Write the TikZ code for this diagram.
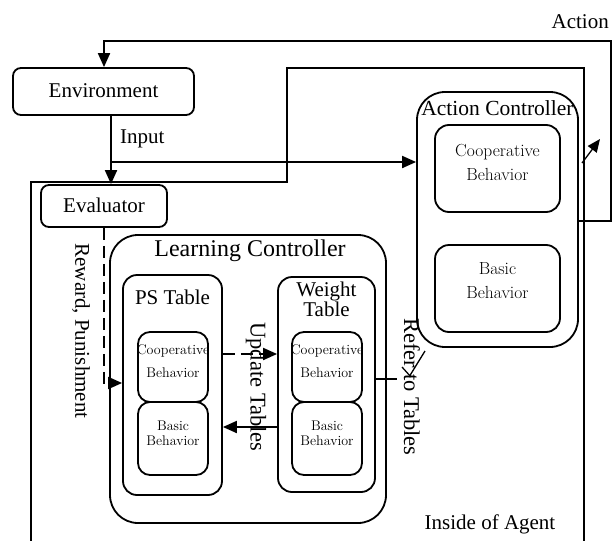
\documentclass[tikz,border=0pt]{standalone}
\usepackage{fontspec}
\setmainfont{Liberation Serif}
\usetikzlibrary{arrows.meta}
\begin{document}
\begin{tikzpicture}[x=1pt,y=-1pt,
  box/.style={draw, line width=1.8pt, rounded corners=#1, inner sep=0pt},
  box/.default=8pt,
  conn/.style={line width=1.9pt},
  arr/.style={conn, -{Triangle[length=14pt,width=12pt]}},
  dashline/.style={dash pattern=on 12pt off 6pt},
  big/.style={font=\fontsize{21}{23}\selectfont, inner sep=0pt},
  bigger/.style={font=\fontsize{24}{26}\selectfont, inner sep=0pt},
  rot/.style={font=\fontsize{22.5}{24}\selectfont, inner sep=0pt, rotate=-90},
  small/.style={font=\fontfamily{lmr}\fontsize{14}{23}\selectfont, align=center, inner sep=0pt},
  smallb/.style={font=\fontfamily{lmr}\fontsize{14}{15}\selectfont, align=center, inner sep=0pt},
  mid/.style={font=\fontfamily{lmr}\fontsize{17.5}{24}\selectfont, align=center, inner sep=0pt},
]
\useasboundingbox (0,0) rectangle (616,541);

% boundary of the agent
\draw[conn] (31,545) -- (31,182) -- (287,182) -- (287,68) -- (584,68) -- (584,545);

% top-level boxes
\node[box, minimum width=181pt, minimum height=47pt] (env) at (103.5,91.5) {};
\node[big] (envt) at (103.5,91) {Environment};
\node[box, minimum width=126pt, minimum height=42pt] (eval) at (104,206) {};
\node[big] (evalt) at (104,205) {Evaluator};

% learning controller
\node[box=28pt, minimum width=276pt, minimum height=288pt] (lc) at (248,379) {};
\node[bigger] (lct) at (250,251) {Learning Controller};

\node[box=14pt, minimum width=99pt, minimum height=220pt] (ps) at (172.5,385) {};
\node[big] (pst) at (172.5,297) {PS Table};
\node[box=12pt, minimum width=70pt, minimum height=70pt] (psc) at (173,367) {};
\node[small] (psct) at (173,361) {Cooperative\\Behavior};
\node[box=12pt, minimum width=70pt, minimum height=73pt] (psb) at (173,438.5) {};
\node[smallb] (psbt) at (173,433) {Basic\\Behavior};

\node[box=14pt, minimum width=97pt, minimum height=215pt] (wt) at (326.5,384.5) {};
\node[big, font=\fontsize{21}{16}\selectfont, align=center] (wtt) at (326.5,299) {Weight\\Table};
\node[box=12pt, minimum width=70pt, minimum height=70pt] (wtc) at (327,367) {};
\node[small] (wtct) at (327,361) {Cooperative\\Behavior};
\node[box=12pt, minimum width=70pt, minimum height=73pt] (wtb) at (327,438.5) {};
\node[smallb] (wtbt) at (327,433) {Basic\\Behavior};

% action controller
\node[box=28pt, minimum width=161pt, minimum height=255pt] (ac) at (497.5,219.5) {};
\node[big, font=\fontsize{21.5}{23}\selectfont] (act) at (497.5,108) {Action Controller};
\node[box=14pt, minimum width=125pt, minimum height=87pt] (acc) at (497.5,168.5) {};
\node[mid] (acct) at (497.5,162) {Cooperative\\Behavior};
\node[box=14pt, minimum width=125pt, minimum height=87pt] (acb) at (497.5,288.5) {};
\node[mid] (acbt) at (497.5,281) {Basic\\Behavior};

% free labels
\node[big, anchor=base east] (actionl) at (609,28) {Action};
\node[big, anchor=base west] (inputl) at (120,143) {Input};
\node[rot, font=\fontsize{21}{23}\selectfont] (rewardl) at (81,331) {Reward, Punishment};
\node[rot] (updl) at (256,387) {Update Tables};
\node[rot] (refl) at (412,387) {Refer to Tables};
\node[big] (insidel) at (490,524) {Inside of Agent};

% connector turning points
\coordinate (inx) at (111,162);
\coordinate (a1) at (611,221);
\coordinate (a2) at (611,41);
\coordinate (a3) at (104,41);
\coordinate (rw) at (104,383);
\coordinate (u1) at (250,354);
\coordinate (u2) at (250,427);
\coordinate (r0) at (397,379);
\coordinate (r1) at (409,377);
\coordinate (r2) at (425,351);
\coordinate (r3) at (402,367);
\coordinate (r4) at (411,377);
\coordinate (s1) at (582,163);
\coordinate (s2) at (600,139);

% connectors
\draw[arr] (ac.east |- a1) -- (a1) -- (a2) -- (a3) -- (env.north -| a3);
\draw[arr] (env.south -| inx) -- (eval.north -| inx);
\draw[arr] (inx) -- (ac.west |- inx);
\draw[arr, dashline] (eval.south) -- (rw) -- (ps.west |- rw);
\draw[arr, dashline] (ps.east |- u1) -- (wt.west |- u1);
\draw[arr] (wt.west |- u2) -- (ps.east |- u2);
\draw[conn] (wt.east |- r0) -- (r0);
\draw[line width=1.3pt] (r1) -- (r2);
\draw[line width=1.3pt] (r3) -- (r4);
\draw[conn, line width=1.3pt, -{Triangle[length=13pt,width=11pt]}] (s1) -- (s2);
\end{tikzpicture}
\end{document}
